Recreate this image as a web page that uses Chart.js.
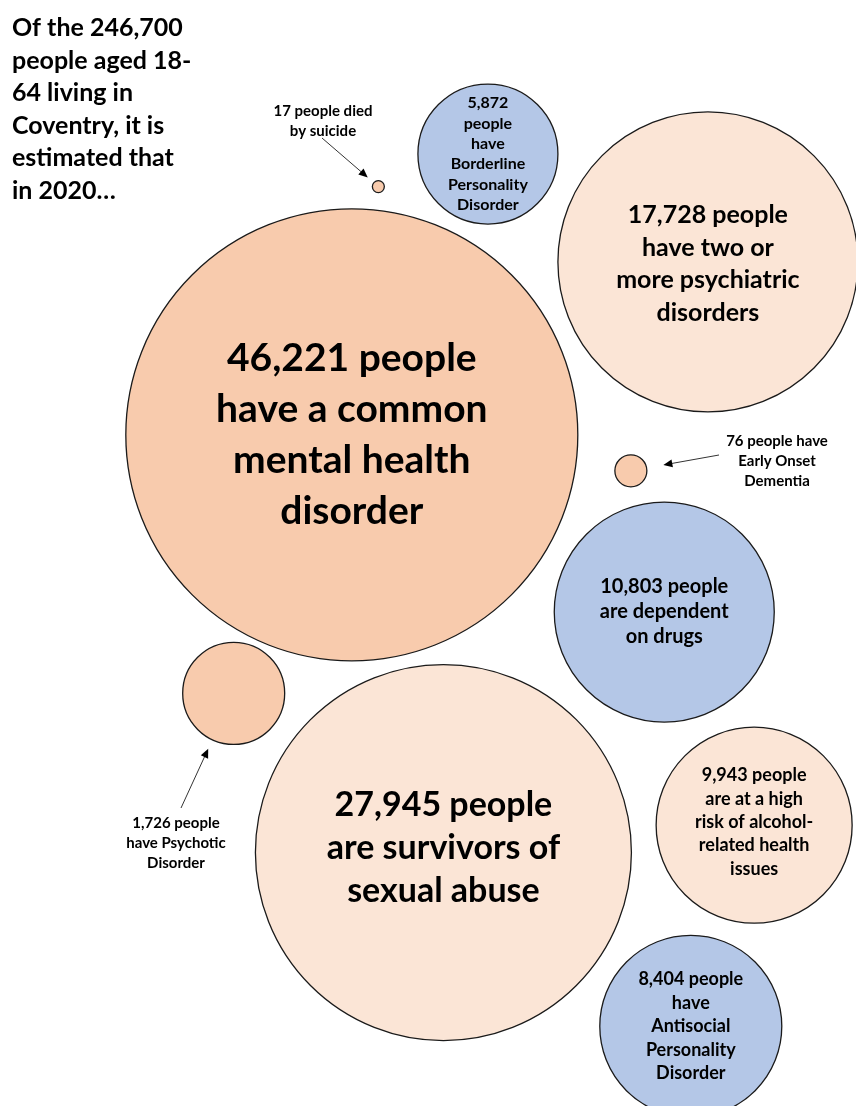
<!DOCTYPE html>
<html>
<head>
<meta charset="utf-8">
<script src="https://cdn.jsdelivr.net/npm/chart.js@4.4.0/dist/chart.umd.min.js"></script>
<style>
  body { margin: 0; background: #fff; }
  #wrap { width: 856px; height: 1106px; position: relative; }
</style>
</head>
<body>
<div id="wrap"><canvas id="myChart"></canvas></div>
<script>
// values (x/y on a 0-100 wide frame, r in px as Chart.js bubbles use)
var counts = [46221, 27945, 17728, 10803, 9943, 8404, 5872, 1726, 76, 17];
var xVal = [41.1, 51.8, 82.7, 77.6, 88.1, 80.7, 57.0, 27.3, 73.7, 44.2];
var yVal = [50.8, 99.6, 30.6, 71.5, 96.4, 119.9, 18.0, 81.0, 55.0, 21.8];
var rVal = [226, 188, 150, 110, 98, 91, 70, 51, 16, 6];
var groups = ['mid', 'light', 'light', 'blue', 'light', 'blue', 'blue', 'mid', 'mid', 'mid'];
var bubbleText = [
    ['46,221 people', 'have a common', 'mental health', 'disorder'],
    ['27,945 people', 'are survivors of', 'sexual abuse'],
    ['17,728 people', 'have two or', 'more psychiatric', 'disorders'],
    ['10,803 people', 'are dependent', 'on drugs'],
    ['9,943 people', 'are at a high', 'risk of alcohol-', 'related health', 'issues'],
    ['8,404 people', 'have', 'Antisocial', 'Personality', 'Disorder'],
    ['5,872', 'people', 'have', 'Borderline', 'Personality', 'Disorder'],
    [], [], []
];
var titleLines = ['Of the 246,700', 'people aged 18-', '64 living in', 'Coventry, it is', 'estimated that', 'in 2020\u2026'];

var colours = { mid: '#F8CBAD', light: '#FBE5D6', blue: '#B4C7E7' };
var fontSizes = [39, 34, 25, 20, 18, 18, 16];
var lineGaps = [51, 43, 32.5, 25, 23.3, 23.5, 20.4];
var textShift = [0, -5, 2, 0, -3, 0, 0];

// callouts for the small bubbles: text spot, arrow start, gap kept from bubble edge
var callouts = [
    { idx: 9, lines: ['17 people died', 'by suicide'], x: 323, y: 111, sx: 322, sy: 138, gap: 8 },
    { idx: 8, lines: ['76 people have', 'Early Onset', 'Dementia'], x: 777, y: 441, sx: 719, sy: 455, gap: 17 },
    { idx: 7, lines: ['1,726 people', 'have Psychotic', 'Disorder'], x: 176, y: 823, sx: 181, sy: 808, gap: 10 }
];

var points = [];
for (var i = 0; i < counts.length; i++) {
    points.push({ x: xVal[i], y: yVal[i], r: rVal[i] });
}

var textPlugin = {
    id: 'bubbleText',
    afterDatasetsDraw: function(chart) {
        var ctx = chart.ctx;
        var meta = chart.getDatasetMeta(0);
        ctx.save();
        ctx.fillStyle = '#000';
        ctx.textAlign = 'center';
        ctx.textBaseline = 'middle';
        meta.data.forEach(function(el, i) {
            var lines = bubbleText[i];
            if (!lines.length) return;
            ctx.font = 'bold ' + fontSizes[i] + 'px Lato';
            var top = el.y + textShift[i] - (lines.length - 1) * lineGaps[i] / 2;
            lines.forEach(function(t, k) {
                ctx.fillText(t, el.x, top + k * lineGaps[i]);
            });
        });

        // title
        ctx.textAlign = 'left';
        ctx.font = 'bold 25px Lato';
        titleLines.forEach(function(t, k) {
            ctx.fillText(t, 12, 28 + k * 32.6);
        });

        // callouts + arrows
        ctx.textAlign = 'center';
        ctx.font = 'bold 15px Lato';
        callouts.forEach(function(c) {
            c.lines.forEach(function(t, k) {
                ctx.fillText(t, c.x, c.y + k * 20);
            });
            var el = meta.data[c.idx];
            var dx = el.x - c.sx, dy = el.y - c.sy;
            var d = Math.sqrt(dx * dx + dy * dy);
            var stop = d - el.options.radius - c.gap;
            var tx = c.sx + dx / d * stop, ty = c.sy + dy / d * stop;
            var ux = dx / d, uy = dy / d;
            ctx.strokeStyle = '#333';
            ctx.lineWidth = 1;
            ctx.beginPath();
            ctx.moveTo(c.sx, c.sy);
            ctx.lineTo(tx - ux * 6, ty - uy * 6);
            ctx.stroke();
            ctx.fillStyle = '#000';
            ctx.beginPath();
            ctx.moveTo(tx, ty);
            ctx.lineTo(tx - ux * 9 - uy * 4, ty - uy * 9 + ux * 4);
            ctx.lineTo(tx - ux * 9 + uy * 4, ty - uy * 9 - ux * 4);
            ctx.closePath();
            ctx.fill();
        });
        ctx.restore();
    }
};

var ctx = document.getElementById('myChart').getContext('2d');
var myChart = new Chart(ctx, {
    type: 'bubble',
    data: {
        datasets: [{
            label: 'People aged 18-64',
            data: points,
            backgroundColor: groups.map(function(g) { return colours[g]; }),
            borderColor: '#1a1a1a',
            borderWidth: 1.3,
            hoverRadius: 0,
            clip: false
        }]
    },
    options: {
        responsive: true,
        maintainAspectRatio: false,
        animation: false,
        layout: { padding: 0, autoPadding: false },
        plugins: { legend: { display: false }, tooltip: { enabled: false } },
        scales: {
            x: { type: 'linear', display: false, min: 0, max: 100 },
            y: { type: 'linear', display: false, min: 0, max: 1106 / 8.56, reverse: true }
        }
    },
    plugins: [textPlugin]
});
</script>
</body>
</html>
